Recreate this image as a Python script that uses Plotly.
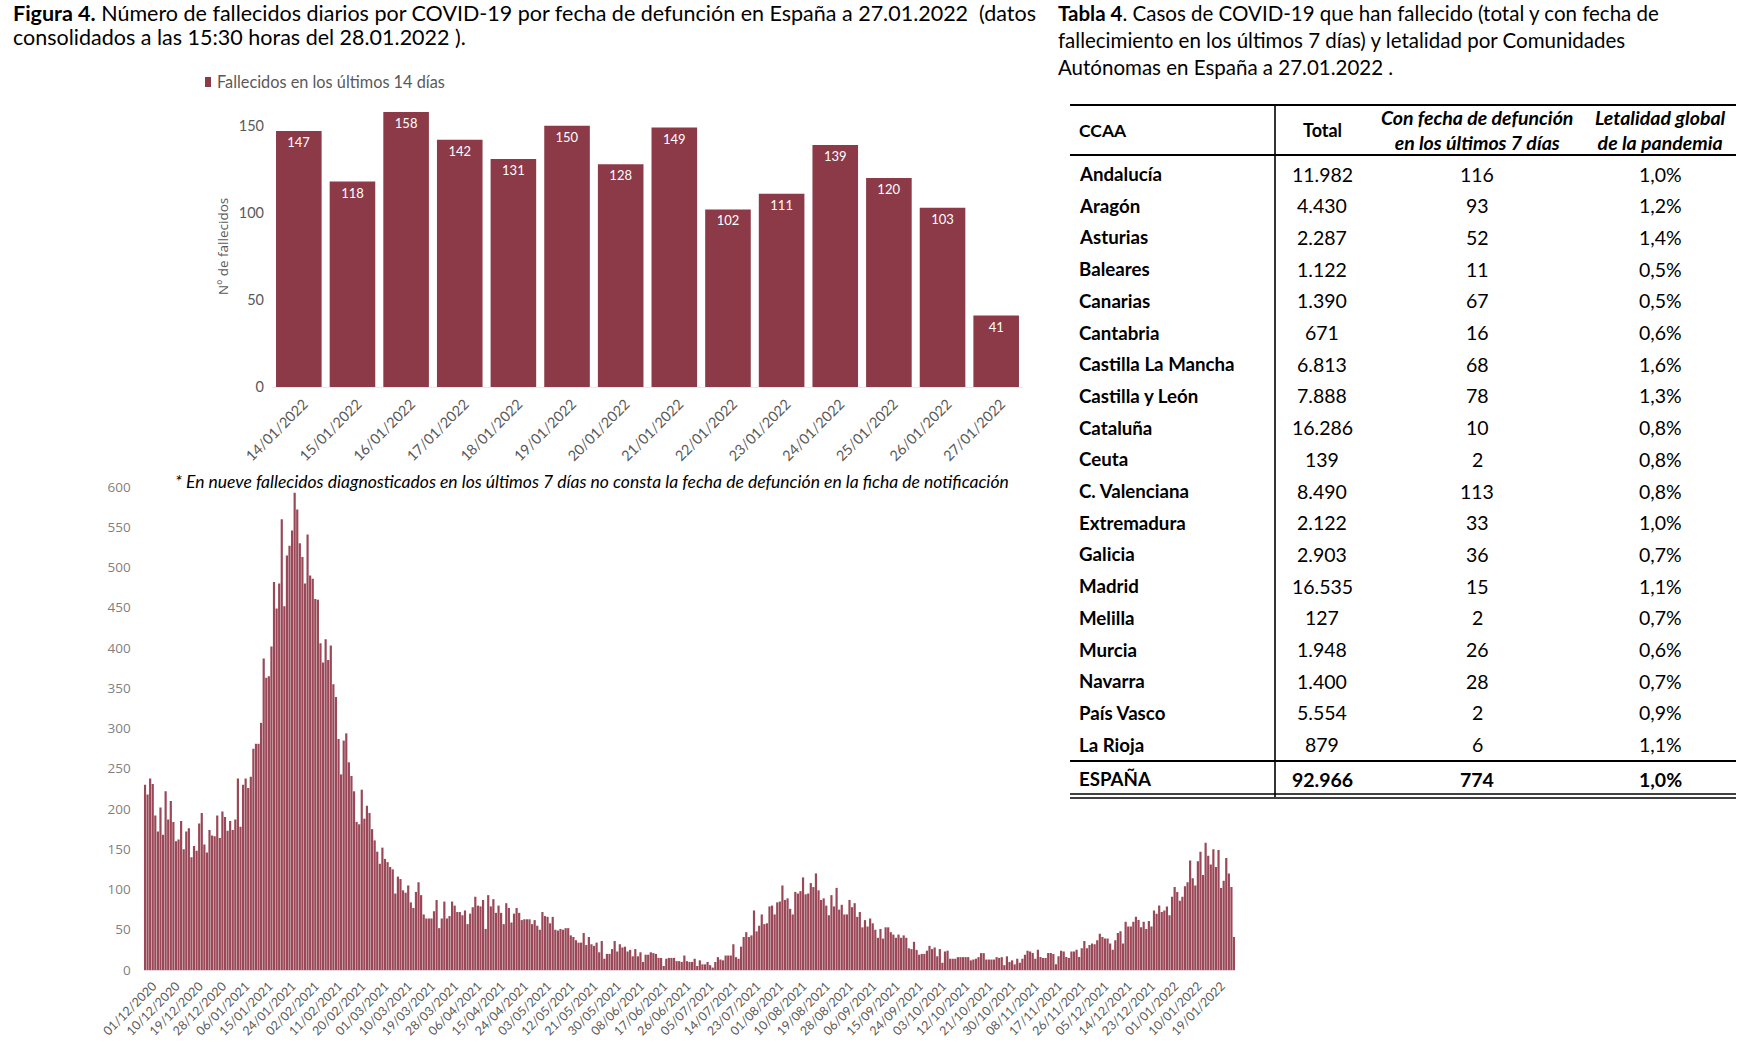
import plotly.graph_objects as go
import pandas as pd

W, H = 1747, 1047

# ---------------- data ----------------
top_dates = ["14/01/2022", "15/01/2022", "16/01/2022", "17/01/2022", "18/01/2022",
             "19/01/2022", "20/01/2022", "21/01/2022", "22/01/2022", "23/01/2022",
             "24/01/2022", "25/01/2022", "26/01/2022", "27/01/2022"]
top_values = [147, 118, 158, 142, 131, 150, 128, 149, 102, 111, 139, 120, 103, 41]

daily_dec2020_feb2021 = [
    230, 218, 238, 231, 192, 172, 202, 168, 222, 187,
    210, 184, 160, 162, 185, 150, 172, 176, 140, 154,
    148, 182, 195, 156, 146, 174, 167, 166, 192, 164,
    197, 190, 173, 185, 174, 187, 238, 178, 230, 238,
    226, 240, 275, 281, 281, 307, 387, 363, 365, 402,
    482, 449, 480, 560, 452, 515, 527, 546, 593, 572,
    530, 513, 480, 541, 490, 486, 461, 460, 406, 382,
    411, 385, 403, 355, 339, 287, 243, 285, 294, 258,
    241, 222, 184, 181]
daily_feb2021_may2021 = [
    224, 188, 204, 195, 175, 161, 147, 132, 152, 138,
    134, 128, 125, 95, 116, 113, 99, 96, 105, 84,
    77, 97, 109, 93, 69, 64, 64, 64, 73, 87,
    52, 64, 85, 64, 67, 85, 80, 72, 72, 68,
    74, 57, 70, 78, 91, 80, 79, 87, 51, 93,
    79, 88, 71, 80, 71, 57, 83, 77, 59, 70,
    77, 71, 62, 63, 63, 63, 57, 62, 55, 50,
    72, 67, 66, 58, 66, 50, 49, 51, 50, 52,
    52, 43, 41, 37, 34, 34]
daily_may2021_aug2021 = [
    46, 31, 41, 32, 30, 34, 22, 36, 14, 20,
    20, 26, 36, 23, 32, 28, 29, 23, 25, 17,
    26, 17, 22, 10, 19, 19, 22, 21, 20, 15,
    15, 5, 14, 15, 15, 15, 11, 11, 10, 18,
    11, 10, 10, 14, 5, 12, 7, 7, 10, 6,
    3, 10, 16, 13, 12, 18, 18, 18, 32, 16,
    14, 29, 41, 47, 41, 43, 74, 48, 55, 69,
    57, 58, 79, 80, 69, 84, 85, 105, 87, 89,
    76, 69, 97, 95, 98]
daily_aug2021_nov2021 = [
    115, 94, 95, 108, 103, 120, 99, 87, 89, 80,
    68, 93, 79, 102, 75, 81, 69, 69, 87, 78,
    83, 66, 72, 53, 62, 54, 64, 58, 50, 40,
    51, 39, 53, 53, 47, 44, 40, 44, 40, 43,
    40, 27, 26, 35, 25, 19, 20, 20, 24, 30,
    26, 28, 17, 26, 9, 23, 24, 14, 14, 14,
    16, 16, 16, 16, 16, 12, 13, 14, 16, 21,
    21, 13, 13, 13, 13, 16, 15, 16, 6, 17,
    10, 12, 7, 14]
daily_nov2021_jan2022 = [
    9, 14, 19, 24, 23, 21, 14, 25, 16, 15,
    15, 21, 21, 20, 7, 17, 24, 23, 16, 15,
    23, 23, 25, 16, 27, 36, 27, 31, 33, 32,
    37, 45, 41, 39, 39, 33, 25, 37, 46, 48,
    33, 60, 54, 54, 60, 66, 62, 53, 60, 51,
    61, 54, 74, 70, 80, 72, 74, 79, 68, 91,
    103, 97, 86, 91, 104, 109, 136, 114, 105, 135]

daily_values = (daily_dec2020_feb2021 + daily_feb2021_may2021 + daily_may2021_aug2021
                + daily_aug2021_nov2021 + daily_nov2021_jan2022 + top_values)
daily_dates = list(pd.date_range("2020-12-01", "2022-01-27").strftime("%d/%m/%Y"))
daily_ticks = daily_dates[::9]

ccaa = ["Andalucía", "Aragón", "Asturias", "Baleares", "Canarias", "Cantabria",
        "Castilla La Mancha", "Castilla y León", "Cataluña", "Ceuta", "C. Valenciana",
        "Extremadura", "Galicia", "Madrid", "Melilla", "Murcia", "Navarra",
        "País Vasco", "La Rioja"]
total = ["11.982", "4.430", "2.287", "1.122", "1.390", "671", "6.813", "7.888",
         "16.286", "139", "8.490", "2.122", "2.903", "16.535", "127", "1.948",
         "1.400", "5.554", "879"]
ultimos7 = ["116", "93", "52", "11", "67", "16", "68", "78", "10", "2", "113", "33",
            "36", "15", "2", "26", "28", "2", "6"]
letalidad = ["1,0%", "1,2%", "1,4%", "0,5%", "0,5%", "0,6%", "1,6%", "1,3%", "0,8%",
             "0,8%", "0,8%", "1,0%", "0,7%", "1,1%", "0,7%", "0,6%", "0,7%", "0,9%", "1,1%"]
espana = ["ESPAÑA", "92.966", "774", "1,0%"]

# ---------------- helpers ----------------
def X(x):
    return x / W

def Y(y):
    return 1 - y / H

FONT = "Lato"
BAR = "#8C3A48"
GREY = "#595959"

fig = go.Figure()

fig.add_trace(go.Bar(
    x=top_dates, y=top_values, marker_color=BAR, xaxis="x", yaxis="y",
    text=top_values, textposition="inside", insidetextanchor="end",
    textfont=dict(color="white", size=13, family=FONT), constraintext="none",
    showlegend=False, hoverinfo="x+y"))

fig.add_trace(go.Bar(
    x=daily_dates, y=daily_values, marker_color="#9A4857", marker_line_width=0,
    xaxis="x2", yaxis="y2", showlegend=False))

fig.update_layout(
    template="none",
    width=W, height=H, margin=dict(l=0, r=0, t=0, b=0, pad=0, autoexpand=False),
    paper_bgcolor="white", plot_bgcolor="white",
    font=dict(family=FONT, color="black"),
    bargap=0.15,
    xaxis=dict(domain=[X(272), X(1023)], anchor="y", type="category", automargin=False,
               tickangle=-45, tickfont=dict(size=14.5, color=GREY, family=FONT),
               showgrid=False, zeroline=False, showline=True, linecolor="#f2e6e8",
               ticks="", ticklabelstandoff=2, ticklabelshift=5),
    yaxis=dict(domain=[Y(387), Y(91)], anchor="x", range=[0, 170], automargin=False,
               tickvals=[0, 50, 100, 150], showgrid=False, zeroline=False,
               showline=False, ticklabelstandoff=7,
               tickfont=dict(size=14.5, color=GREY, family=FONT), ticks=""),
    xaxis2=dict(domain=[X(143.7), X(1235.3)], anchor="y2", type="category",
                automargin=False,
                tickmode="array", tickvals=daily_ticks, ticktext=daily_ticks,
                tickangle=-45, tickfont=dict(size=12.5, color=GREY, family=FONT),
                showgrid=False, zeroline=False, showline=True, linecolor="#e8d8db",
                ticks="", ticklabelstandoff=3, ticklabelshift=8),
    yaxis2=dict(domain=[Y(970), Y(487)], anchor="x2", range=[0, 600], dtick=50,
                automargin=False, showgrid=False, zeroline=False, showline=False,
                ticklabelstandoff=12,
                tickfont=dict(size=13.5, color="#7f7f7f", family="Open Sans"), ticks=""),
)

ann = []
shapes = []

# Figure title
ann.append(dict(x=X(11), y=Y(13), xref="paper", yref="paper", xanchor="left",
                yanchor="middle", showarrow=False,
                text="<b>Figura 4.</b> Número de fallecidos diarios por COVID-19 por fecha de defunción en España a 27.01.2022  (datos",
                font=dict(size=21.5, family=FONT, color="black")))
ann.append(dict(x=X(11), y=Y(37), xref="paper", yref="paper", xanchor="left",
                yanchor="middle", showarrow=False,
                text="consolidados a las 15:30 horas del 28.01.2022 ).",
                font=dict(size=21.5, family=FONT, color="black")))

# Top chart legend and axis title
shapes.append(dict(type="rect", xref="paper", yref="paper", x0=X(205), x1=X(211),
                   y0=Y(87), y1=Y(77), fillcolor=BAR, line_width=0))
ann.append(dict(x=X(215), y=Y(82), xref="paper", yref="paper", xanchor="left",
                yanchor="middle", showarrow=False, text="Fallecidos en los últimos 14 días",
                font=dict(size=16.3, family=FONT, color=GREY)))
ann.append(dict(x=X(223), y=Y(247), xref="paper", yref="paper", xanchor="center",
                yanchor="middle", showarrow=False, text="Nº de fallecidos", textangle=-90,
                font=dict(size=13.5, family="Open Sans", color=GREY)))

# Footnote
ann.append(dict(x=X(173), y=Y(481), xref="paper", yref="paper", xanchor="left",
                yanchor="middle", showarrow=False,
                text="<i>* En nueve fallecidos diagnosticados en los últimos 7 días no consta la fecha de defunción en la ficha de notificación</i>",
                font=dict(size=17.5, family=FONT, color="black")))

# Table title
tt = ["<b>Tabla 4</b>. Casos de COVID-19 que han fallecido (total y con fecha de",
      "fallecimiento en los últimos 7 días) y letalidad por Comunidades",
      "Autónomas en España a 27.01.2022 ."]
for k, t in enumerate(tt):
    ann.append(dict(x=X(1056), y=Y(13 + 27 * k), xref="paper", yref="paper",
                    xanchor="left", yanchor="middle", showarrow=False, text=t,
                    font=dict(size=20.5, family=FONT, color="black")))

# Table
cx = [1077, 1322, 1477, 1660]
hy = 130
ann.append(dict(x=X(cx[0]), y=Y(hy), xref="paper", yref="paper", xanchor="left",
                yanchor="middle", showarrow=False, text="<b>CCAA</b>",
                font=dict(size=17.5, family=FONT, color="black")))
ann.append(dict(x=X(cx[1]), y=Y(hy), xref="paper", yref="paper", xanchor="center",
                yanchor="middle", showarrow=False, text="<b>Total</b>",
                font=dict(size=18, family=FONT, color="black")))
ann.append(dict(x=X(cx[2]), y=Y(hy), xref="paper", yref="paper", xanchor="center",
                yanchor="middle", showarrow=False,
                text="<b><i>Con fecha de defunción<br>en los últimos 7 días</i></b>",
                font=dict(size=19.5, family=FONT, color="black")))
ann.append(dict(x=X(cx[3]), y=Y(hy), xref="paper", yref="paper", xanchor="center",
                yanchor="middle", showarrow=False,
                text="<b><i>Letalidad global<br>de la pandemia</i></b>",
                font=dict(size=19.5, family=FONT, color="black")))

for r in range(len(ccaa)):
    yy = 174 + 31.7 * r
    ann.append(dict(x=X(cx[0]), y=Y(yy), xref="paper", yref="paper", xanchor="left",
                    yanchor="middle", showarrow=False, text="<b>" + ccaa[r] + "</b>",
                    font=dict(size=18.7, family=FONT, color="black")))
    for c, col in zip(cx[1:], [total, ultimos7, letalidad]):
        ann.append(dict(x=X(c), y=Y(yy), xref="paper", yref="paper", xanchor="center",
                        yanchor="middle", showarrow=False, text=col[r],
                        font=dict(size=19.5, family=FONT, color="black")))

ey = 779
ann.append(dict(x=X(cx[0]), y=Y(ey), xref="paper", yref="paper", xanchor="left",
                yanchor="middle", showarrow=False, text="<b>" + espana[0] + "</b>",
                font=dict(size=18.7, family=FONT, color="black")))
for c, v in zip(cx[1:], espana[1:]):
    ann.append(dict(x=X(c), y=Y(ey), xref="paper", yref="paper", xanchor="center",
                    yanchor="middle", showarrow=False, text="<b>" + v + "</b>",
                    font=dict(size=19.5, family=FONT, color="black")))

def hline(y, w=2, x0=1070, x1=1736):
    shapes.append(dict(type="line", xref="paper", yref="paper", x0=X(x0), x1=X(x1),
                       y0=Y(y), y1=Y(y), line=dict(color="black", width=w)))

hline(105, 2.2)
hline(155, 2.2)
hline(761, 2.2)
hline(794, 1.5)
hline(798, 1.5)
shapes.append(dict(type="line", xref="paper", yref="paper", x0=X(1275), x1=X(1275),
                   y0=Y(105), y1=Y(797), line=dict(color="black", width=1.6)))

fig.update_layout(annotations=ann, shapes=shapes)
fig.write_html("out.html")
